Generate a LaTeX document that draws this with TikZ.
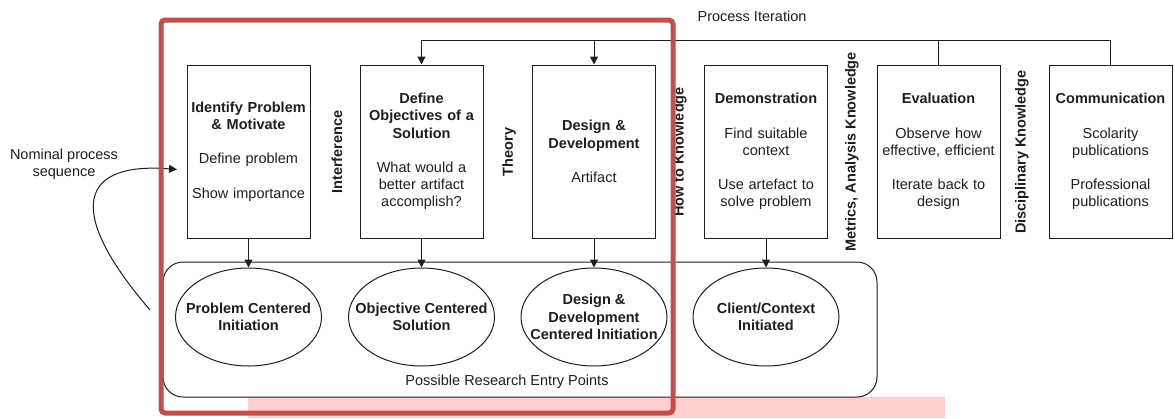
\documentclass[tikz,border=0pt]{standalone}
\usepackage{fontspec}
\setmainfont{Liberation Sans}
\usetikzlibrary{arrows.meta,shapes.geometric}
\definecolor{redframe}{RGB}{192,80,77}
\definecolor{pinkbar}{RGB}{255,206,206}
\definecolor{txt}{RGB}{30,30,30}
\definecolor{lncol}{RGB}{30,30,30}
\begin{document}
\begin{tikzpicture}[x=1pt,y=-1pt,
  every node/.style={text=txt,font=\fontsize{14.5}{17.2}\selectfont},
  stepbox/.style={draw=lncol,line width=1pt,rectangle,minimum width=123pt,minimum height=173pt,text width=121pt,inner sep=1pt,align=center},
  entry/.style={draw=lncol,line width=1pt,ellipse,minimum width=146pt,minimum height=98pt,inner sep=0pt},
  entrytext/.style={align=center,font=\fontsize{14.5}{17.2}\selectfont\bfseries},
  vlabel/.style={rotate=90,font=\fontsize{14.5}{17.2}\selectfont\bfseries},
  arr/.style={-{Triangle[length=8pt,width=8pt]},line width=1pt,draw=lncol},
  ln/.style={line width=1pt,draw=lncol}]
\useasboundingbox (0,0) rectangle (1175,418);
% pink bar
\fill[pinkbar] (248,397) rectangle (945,418);
% container of entry points
\node[draw=lncol,line width=1pt,rounded corners=20pt,minimum width=714pt,minimum height=135pt,inner sep=0pt] (entries) at (520,329.5) {};
\node (entrylabel) at (507,382) {Possible Research Entry Points};
% step boxes
\node[stepbox] (b1) at (248.5,151.5) {\textbf{Identify Problem\\\& Motivate}\\[17.2pt]Define problem\\[17.2pt]Show importance};
\node[stepbox] (b2) at (421.5,151.5) {\textbf{Define\\Objectives of a\\Solution}\\[17.2pt]What would a\\better artifact\\accomplish?};
\node[stepbox] (b3) at (594,151.5) {\textbf{Design \&\\Development}\\[17.2pt]Artifact};
\node[stepbox] (b4) at (766,151.5) {\textbf{Demonstration}\\[17.2pt]Find suitable\\context\\[17.2pt]Use artefact to\\solve problem};
\node[stepbox] (b5) at (938.5,151.5) {\textbf{Evaluation}\\[17.2pt]Observe how\\effective, efficient\\[17.2pt]Iterate back to\\design};
\node[stepbox] (b6) at (1110.5,151.5) {\textbf{Communication}\\[17.2pt]Scolarity\\publications\\[17.2pt]Professional\\publications};
% vertical labels
\node[vlabel] (k1) at (337,152) {Interference};
\node[vlabel] (k2) at (509,152) {Theory};
\node[vlabel] (k3) at (680,152) {How to Knowledge};
\node[vlabel] (k4) at (852,152) {Metrics, Analysis Knowledge};
\node[vlabel] (k5) at (1022,152) {Disciplinary Knowledge};
% entry ellipses
\node[entry,label={[entrytext]center:Problem Centered\\Initiation}] (e1) at (248.5,317) {};
\node[entry,label={[entrytext]center:Objective Centered\\Solution}] (e2) at (421.5,317) {};
\node[entry,label={[entrytext]center:Design \&\\Development\\Centered Initiation}] (e3) at (594,317) {};
\node[entry,label={[entrytext]center:Client/Context\\Initiated}] (e4) at (766,317) {};
% arrows boxes -> entry points
\draw[arr] (b1.south) -- (e1.north);
\draw[arr] (b2.south) -- (e2.north);
\draw[arr] (b3.south) -- (e3.north);
\draw[arr] (b4.south) -- (e4.north);
% process iteration
\coordinate (pit) at (752,40.5);
\node (pitlabel) at (752,16) {Process Iteration};
\draw[arr] (b6.north) -- (b6.north |- pit) -| (b2.north);
\draw[ln] (b5.north) -- (b5.north |- pit);
\draw[arr] (b3.north |- pit) -- (b3.north);
% nominal process sequence
\node[align=center] (nominal) at (64,164) {Nominal process\\sequence};
\coordinate (nstart) at (150,310);
\coordinate (nend) at (177,169.5);
\draw[arr] (nstart) .. controls (60,205) and (85,162) .. (nend);
% red frame
\draw[redframe,line width=5pt,rounded corners=4pt] (161,20) rectangle (673,413);
\end{tikzpicture}
\end{document}
